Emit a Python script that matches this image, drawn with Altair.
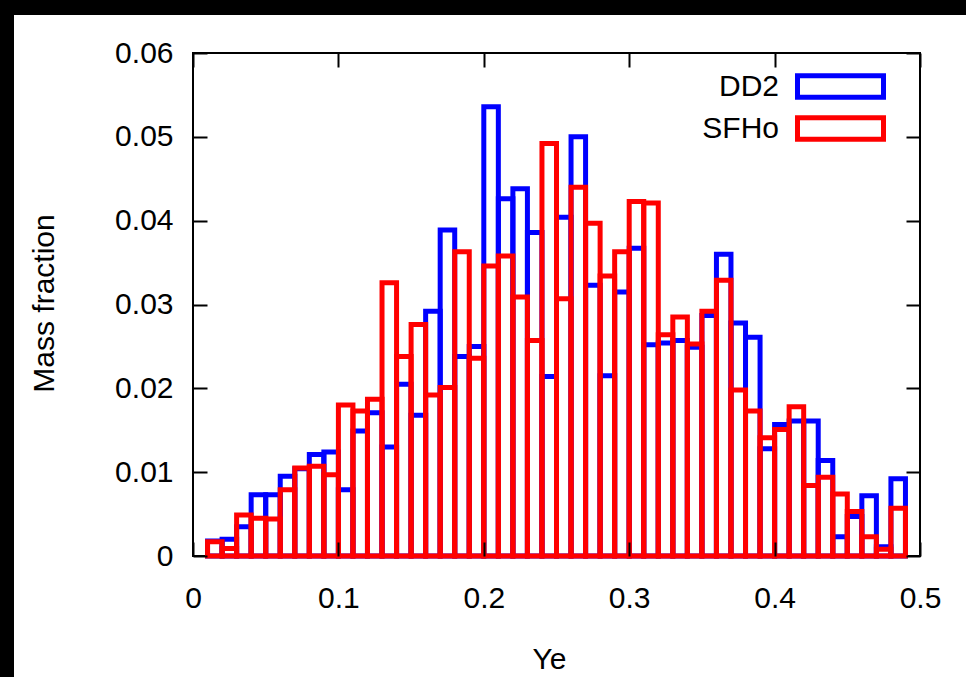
import altair as alt
import pandas as pd

# Ye histogram bins: lower edges, width 0.01, covering 0.01 .. 0.49
bin_width = 0.01
bin_lo = [round(0.01 * k, 2) for k in range(1, 49)]

# Mass fraction per Ye bin for each equation of state
dd2 = [0.0018, 0.0020, 0.0035, 0.0073, 0.0073, 0.0095, 0.0104, 0.0121,
       0.0124, 0.0079, 0.0149, 0.0171, 0.0130, 0.0205, 0.0168, 0.0292,
       0.0389, 0.0238, 0.0250, 0.0536, 0.0426, 0.0438, 0.0386, 0.0214,
       0.0404, 0.0500, 0.0323, 0.0215, 0.0315, 0.0367, 0.0252, 0.0254,
       0.0257, 0.0249, 0.0287, 0.0360, 0.0278, 0.0261, 0.0128, 0.0157,
       0.0161, 0.0161, 0.0114, 0.0023, 0.0047, 0.0072, 0.0011, 0.0092]
sfho = [0.0017, 0.0009, 0.0049, 0.0045, 0.0044, 0.0079, 0.0105, 0.0107,
        0.0097, 0.0180, 0.0173, 0.0187, 0.0326, 0.0238, 0.0276, 0.0192,
        0.0201, 0.0363, 0.0236, 0.0346, 0.0358, 0.0309, 0.0257, 0.0492,
        0.0307, 0.0440, 0.0397, 0.0334, 0.0363, 0.0423, 0.0421, 0.0264,
        0.0285, 0.0253, 0.0292, 0.0329, 0.0198, 0.0173, 0.0141, 0.0151,
        0.0178, 0.0084, 0.0094, 0.0074, 0.0053, 0.0023, 0.0008, 0.0057]

models = ["DD2", "SFHo"]
model_colors = ["#0000ff", "#ff0000"]

x_ticks = [0, 0.1, 0.2, 0.3, 0.4, 0.5]
y_ticks = [0, 0.01, 0.02, 0.03, 0.04, 0.05, 0.06]

FONT = "Liberation Sans"
W, H = 727, 503
PAD = {"left": 193, "top": 53, "right": 46, "bottom": 121}
TICK = 14

rows = []
for name, vals in zip(models, (dd2, sfho)):
    for lo, v in zip(bin_lo, vals):
        rows.append({"model": name, "lo": lo, "hi": round(lo + bin_width, 2), "frac": v})
df = pd.DataFrame(rows)

x_scale = alt.Scale(domain=[0, 0.5], nice=False, zero=False)
y_scale = alt.Scale(domain=[0, 0.06], nice=False)

# ticks point into the plot: axis pulled inward by the tick length
common = dict(grid=False, domain=False, ticks=True, tickSize=TICK, tickWidth=2,
              tickColor="black", offset=-TICK, zindex=1, labelFont=FONT,
              labelFontSize=30, labelColor="black", titleFont=FONT,
              titleFontSize=30, titleColor="black", titleFontWeight="normal")

x_bottom = alt.Axis(orient="bottom", values=x_ticks, format="~g", labelPadding=27,
                    labelFlush=False, title="Ye", titleX=356, titleY=126,
                    titleBaseline="alphabetic", titleAlign="center", **common)
y_left = alt.Axis(orient="left", values=y_ticks, format="~g", labelPadding=20,
                  title="Mass fraction", titleX=-154, titleY=250, titleAngle=270,
                  titleBaseline="alphabetic", titleAlign="center", **common)
x_top = alt.Axis(orient="top", values=x_ticks, labels=False, title=None, **common)
y_right = alt.Axis(orient="right", values=y_ticks, labels=False, title=None, **common)

# key: name right-aligned, outlined box drawn to the right of it
# (symbol path is shifted right of its anchor so the box sits after the text)
legend = alt.Legend(
    title=None, orient="none", legendX=556, legendY=18.5, padding=0,
    symbolType="M3.116,-1H11.116V1H3.116Z", symbolSize=462.25,
    symbolStrokeWidth=5, symbolFillColor="transparent", labelAlign="right",
    labelOffset=0, labelFont=FONT, labelFontSize=30, labelColor="black",
    rowPadding=0,
)

# dark strips along the top and left edges of the page
strip_top = alt.Chart(alt.Data(values=[{}])).mark_rect(color="black").encode(
    x=alt.value(-PAD["left"]), x2=alt.value(W + PAD["right"]),
    y=alt.value(-PAD["top"]), y2=alt.value(-PAD["top"] + 15),
)
strip_left = alt.Chart(alt.Data(values=[{}])).mark_rect(color="black").encode(
    x=alt.value(-PAD["left"]), x2=alt.value(-PAD["left"] + 14),
    y=alt.value(-PAD["top"]), y2=alt.value(H + PAD["bottom"]),
)

bars = alt.Chart(df).mark_rect(filled=False, strokeWidth=5).encode(
    x=alt.X("lo:Q", scale=x_scale, axis=x_bottom),
    x2="hi:Q",
    y=alt.Y("frac:Q", scale=y_scale, axis=y_left),
    y2=alt.datum(0),
    color=alt.Color("model:N", scale=alt.Scale(domain=models, range=model_colors),
                    legend=legend),
)

mirror = alt.Chart(df).mark_point(opacity=0).encode(
    x=alt.X("lo:Q", scale=x_scale, axis=x_top),
    y=alt.Y("frac:Q", scale=y_scale, axis=y_right),
)

chart = (
    alt.layer(strip_top, strip_left, bars, mirror)
    .resolve_axis(x="independent", y="independent")
    .properties(width=W, height=H, padding=PAD,
                autosize=alt.AutoSizeParams(type="none"), background="white")
    .configure_view(stroke="black", strokeWidth=2)
)

chart.save("out.html", embed_options={"renderer": "svg", "actions": False})
